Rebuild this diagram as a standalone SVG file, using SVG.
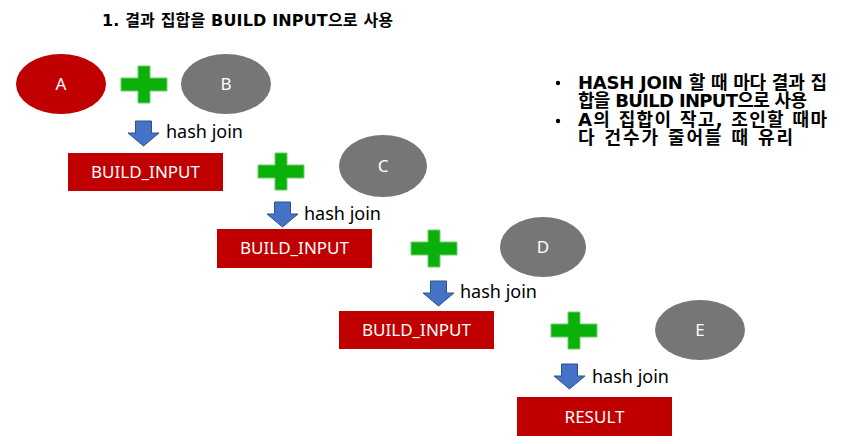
<svg xmlns="http://www.w3.org/2000/svg" width="868" height="444" viewBox="0 0 868 444">
<style>
.bg{fill:#ffffff}
.red{fill:#C00000}
.grey{fill:#767676}
.lbl{font-family:"Noto Sans","Open Sans","Noto Sans CJK KR",sans-serif;font-size:17px;fill:#ffffff;text-anchor:middle}
.hj{font-family:"Noto Sans","Open Sans",sans-serif;font-size:18px;fill:#000000}
.ttl{font-family:"DejaVu Sans","Noto Sans CJK KR",sans-serif;font-weight:bold;font-size:16px;fill:#000000}
.note{font-family:"DejaVu Sans","Noto Sans CJK KR",sans-serif;font-weight:bold;font-size:18px;fill:#000000}
</style>
<defs>
<path id="plus" d="M17,0 H29 V12 H46 V25 H29 V37 H17 V25 H0 V12 H17 Z" fill="#0BB00B" stroke="#6CD06C" stroke-width="1"/>
<path id="down" d="M7.5,0 H23.5 V12 H31 L15.5,25 L0,12 H7.5 Z" fill="#4472C4" stroke="#2F528F" stroke-width="1"/>
</defs>
<rect class="bg" x="0" y="0" width="868" height="444"/>

<text class="ttl" x="102" y="26" textLength="291" lengthAdjust="spacing">1. 결과 집합을 BUILD INPUT으로 사용</text>

<g id="node-A"><ellipse class="red" cx="61" cy="84" rx="45" ry="30"/><text class="lbl" x="61" y="90">A</text></g>
<g id="plus-1"><use href="#plus" x="121" y="66"/></g>
<g id="node-B"><ellipse class="grey" cx="226" cy="84" rx="45" ry="30"/><text class="lbl" x="226" y="90">B</text></g>

<g id="node-build1"><rect class="red" x="68" y="153" width="155" height="38"/><text class="lbl" x="145.5" y="178">BUILD_INPUT</text></g>
<g id="plus-2"><use href="#plus" x="258" y="153"/></g>
<g id="node-C"><ellipse class="grey" cx="383" cy="166" rx="44" ry="31"/><text class="lbl" x="383" y="172">C</text></g>

<g id="node-build2"><rect class="red" x="217" y="229" width="155" height="39"/><text class="lbl" x="294.5" y="254">BUILD_INPUT</text></g>
<g id="plus-3"><use href="#plus" x="411" y="230"/></g>
<g id="node-D"><ellipse class="grey" cx="543" cy="247" rx="43" ry="30"/><text class="lbl" x="543" y="253">D</text></g>

<g id="node-build3"><rect class="red" x="339" y="311" width="155" height="38"/><text class="lbl" x="416.5" y="336">BUILD_INPUT</text></g>
<g id="plus-4"><use href="#plus" x="551" y="312"/></g>
<g id="node-E"><ellipse class="grey" cx="700" cy="330" rx="45" ry="30"/><text class="lbl" x="700" y="336">E</text></g>

<g id="node-result"><rect class="red" x="517" y="397" width="155" height="39"/><text class="lbl" x="594.5" y="423">RESULT</text></g>

<g id="connectors">
<use href="#down" x="128" y="121"/><text class="hj" x="166" y="138">hash join</text>
<use href="#down" x="267" y="202"/><text class="hj" x="304" y="220">hash join</text>
<use href="#down" x="423" y="281"/><text class="hj" x="460" y="298">hash join</text>
<use href="#down" x="554" y="364"/><text class="hj" x="592" y="383">hash join</text>
</g>

<g id="notes">
<circle cx="558" cy="83" r="2.2" fill="#000"/>
<circle cx="558" cy="121" r="2.2" fill="#000"/>
<text class="note" x="578" y="89" textLength="249" lengthAdjust="spacing">HASH JOIN 할 때 마다 결과 집</text>
<text class="note" x="578" y="107" textLength="229" lengthAdjust="spacing">합을 BUILD INPUT으로 사용</text>
<text class="note" x="578" y="126" textLength="249" lengthAdjust="spacing">A의 집합이 작고, 조인할 때마</text>
<text class="note" x="578" y="144" textLength="215" lengthAdjust="spacing">다 건수가 줄어들 때 유리</text>
</g>
</svg>
